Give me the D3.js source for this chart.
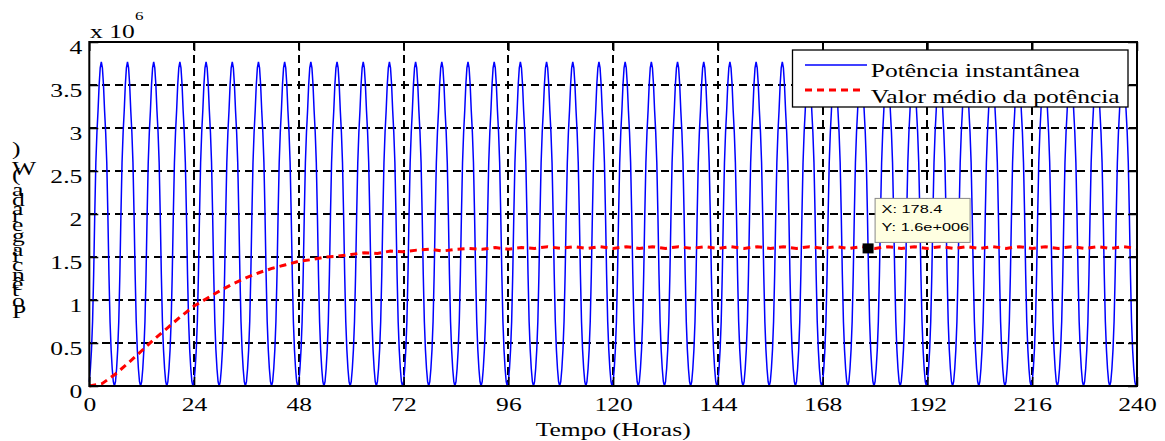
<!DOCTYPE html>
<html><head><meta charset="utf-8">
<script src="https://cdn.jsdelivr.net/npm/d3@7"></script>
<style>html,body{margin:0;padding:0;background:#fff;}svg{display:block;}</style>
</head><body>
<svg id="chart" width="1165" height="441"></svg>
<script>
// ---- data ----
const xTicks = [0, 24, 48, 72, 96, 120, 144, 168, 192, 216, 240];
const xTickLabels = ["0","24","48","72","96","120","144","168","192","216","240"];
const yTicks = [0, 0.5, 1, 1.5, 2, 2.5, 3, 3.5, 4];
const yTickLabels = ["0","0.5","1","1.5","2","2.5","3","3.5","4"];
const cycleStepHours = 0.25;
const cycleProfile = [0.05,0.20,0.42,0.75,1.30,2.00,2.60,2.95,3.20,3.50,3.70,3.77,3.70,3.50,3.20,2.95,2.60,2.00,1.30,0.75,0.42,0.20,0.05,0.00];
const cycleCount = 40;
// mean power (x 1e6 W), every 3 h from 0 to 240
const meanStepHours = 3;
const meanValues = [0,0.03,0.14,0.27,0.41,0.55,0.68,0.81,0.93,1.02,1.11,1.19,1.26,1.32,1.37,1.41,1.45,1.47,1.50,1.51,1.53,1.55,1.54,1.57,1.56,1.58,1.59,1.57,1.59,1.60,1.59,1.61,1.59,1.61,
 1.60,1.62,1.60,1.62,1.60,1.62,1.60,1.62,1.60,1.62,1.60,1.62,1.60,1.62,1.60,1.62,1.60,1.62,1.60,1.62,1.60,1.62,1.60,1.62,1.60,1.62,1.60,1.62,1.60,1.62,1.60,1.62,1.60,1.62,1.60,1.62,1.60,1.62,1.60,1.62,1.60,1.62,1.60,1.62,1.60,1.62,1.60];
const legendLabels = ["Potência instantânea", "Valor médio da potência"];
const yLabel = "Potência gerada (W)";
const xLabel = "Tempo (Horas)";
const tipX = 178.4, tipY = 1.6;
const tipLabels = ["X: 178.4", "Y: 1.6e+006"];

// ---- build series ----
const inst = [];
for (let c = 0; c < cycleCount; c++) {
  cycleProfile.forEach((v, i) => inst.push({t: c * cycleProfile.length * cycleStepHours + i * cycleStepHours, v}));
}
inst.push({t: cycleCount * cycleProfile.length * cycleStepHours, v: cycleProfile[0]});
const mean = meanValues.map((v, i) => ({t: i * meanStepHours, v}));

// ---- layout ----
const SX = 1.42;
const L = 89.3, R = 1137, T = 42, B = 386;
const svg = d3.select("#chart");
const x = d3.scaleLinear().domain([0, 240]).range([L, R]);
const y = d3.scaleLinear().domain([0, 4]).range([B, T]);
const serif = "'Liberation Serif','Times New Roman',serif";

function addText(g, str, tx, ty, size, anchor, family) {
  return g.append("text")
    .attr("transform", `translate(${tx},${ty}) scale(${SX},1)`)
    .attr("text-anchor", anchor)
    .style("font-family", family || serif)
    .style("font-size", size + "px")
    .attr("fill", "#000")
    .text(str);
}

// grid
const grid = svg.append("g").attr("stroke", "#000").attr("stroke-width", 1.5)
  .attr("stroke-dasharray", "8,5").attr("shape-rendering", "crispEdges");
grid.selectAll(".gx").data(xTicks.slice(1, -1)).join("line")
  .attr("x1", d => Math.round(x(d))).attr("x2", d => Math.round(x(d))).attr("y1", T).attr("y2", B);
grid.selectAll(".gy").data(yTicks.slice(1, -1)).join("line")
  .attr("y1", d => Math.round(y(d))).attr("y2", d => Math.round(y(d))).attr("x1", L).attr("x2", R);

// data lines
const line = d3.line().x(d => x(d.t)).y(d => y(d.v));
svg.append("path").datum(inst).attr("d", line)
  .attr("fill", "none").attr("stroke", "#0000ff").attr("stroke-width", 1.5);
svg.append("path").datum(mean).attr("d", line)
  .attr("fill", "none").attr("stroke", "#ff0000").attr("stroke-width", 3).attr("stroke-dasharray", "7,5");

// axes (ticks inward)
const axB = svg.append("g").attr("transform", `translate(0,${B})`)
  .call(d3.axisBottom(x).tickValues(xTicks).tickFormat((d, i) => xTickLabels[i]).tickSize(-9));
const axL = svg.append("g").attr("transform", `translate(${L},0)`)
  .call(d3.axisLeft(y).tickValues(yTicks).tickFormat((d, i) => yTickLabels[i]).tickSize(-9));
const axT = svg.append("g").attr("transform", `translate(0,${T})`)
  .call(d3.axisTop(x).tickValues(xTicks).tickFormat("").tickSize(-9));
const axR = svg.append("g").attr("transform", `translate(${R},0)`)
  .call(d3.axisRight(y).tickValues(yTicks).tickFormat("").tickSize(-9));
[axB, axL, axT, axR].forEach(a => {
  a.select(".domain").remove();
  a.selectAll(".tick line").attr("stroke", "#000").attr("stroke-width", 1.5);
});
axB.selectAll(".tick text")
  .attr("y", null).attr("dy", null)
  .attr("transform", `translate(0,25) scale(${SX},1)`)
  .style("font-family", serif).style("font-size", "18px").attr("fill", "#000");
axL.selectAll(".tick text")
  .attr("x", null).attr("dy", null)
  .attr("transform", `translate(-7,11.5) scale(${SX},1)`)
  .style("font-family", serif).style("font-size", "18px").attr("fill", "#000");

// frame
svg.append("rect").attr("x", L).attr("y", T).attr("width", R - L).attr("height", B - T)
  .attr("fill", "none").attr("stroke", "#000").attr("stroke-width", 2);

// exponent
addText(svg, "x 10", 90, 38, 18, "start");
addText(svg, "6", 135, 20, 12, "start");

// axis labels
addText(svg, xLabel, (L + R) / 2, 436, 18, "middle");
// y label: upright glyphs stacked bottom-to-top, spaced by their advance widths
const yChars = Array.from(yLabel);
const meas = svg.append("text").style("font-family", serif).style("font-size", "18px");
const adv = yChars.map(ch => { meas.text(ch === " " ? "\u00a0" : ch); return meas.node().getComputedTextLength(); });
meas.remove();
const totalBefore = d3.sum(adv.slice(0, -1));
const k = (318 - 155) / totalBefore;
let cum = 0;
yChars.forEach((ch, i) => {
  if (ch !== " ") addText(svg, ch, 12, 318 - cum * k, 18, "start");
  cum += adv[i];
});

// legend
const lg = svg.append("g");
lg.append("rect").attr("x", 792.5).attr("y", 50).attr("width", 335.5).attr("height", 57)
  .attr("fill", "#fff").attr("stroke", "#000").attr("stroke-width", 1.3);
lg.append("line").attr("x1", 805).attr("x2", 867).attr("y1", 65).attr("y2", 65)
  .attr("stroke", "#0000ff").attr("stroke-width", 1.5);
lg.append("line").attr("x1", 805).attr("x2", 865).attr("y1", 90).attr("y2", 90)
  .attr("stroke", "#ff0000").attr("stroke-width", 3).attr("stroke-dasharray", "7,5");
addText(lg, legendLabels[0], 870.7, 76.7, 18, "start");
addText(lg, legendLabels[1], 870.7, 103.3, 18, "start");

// data tip
const px = x(tipX), py = y(tipY);
svg.append("rect").attr("x", px - 5.5).attr("y", py - 5).attr("width", 11).attr("height", 10)
  .attr("fill", "#000");
svg.append("rect").attr("x", px + 7).attr("y", py - 50).attr("width", 95).attr("height", 44)
  .attr("fill", "#ffffe1").attr("stroke", "#888").attr("stroke-width", 1);
addText(svg, tipLabels[0], px + 13.5, py - 35, 11.5, "start", "'Liberation Sans',Arial,sans-serif");
addText(svg, tipLabels[1], px + 13.5, py - 17.5, 11.5, "start", "'Liberation Sans',Arial,sans-serif");
</script>
</body></html>
